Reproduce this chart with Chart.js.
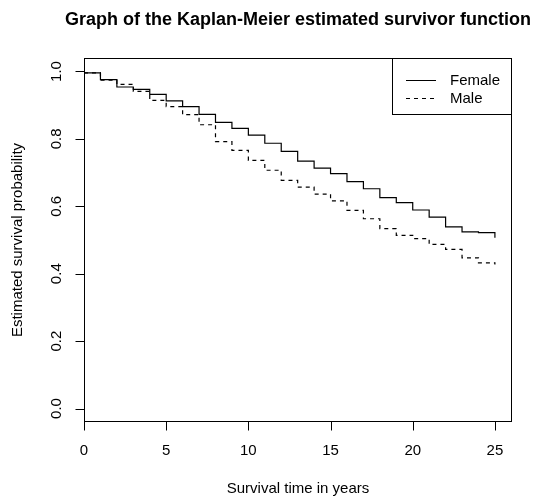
<!DOCTYPE html>
<html>
<head>
<meta charset="utf-8">
<title>Kaplan-Meier survivor function</title>
<script src="https://cdn.jsdelivr.net/npm/chart.js@4.4.1/dist/chart.umd.min.js"></script>
<style>
    html, body { margin: 0; padding: 0; background: #fff; }
    #chartWrap { width: 549px; height: 497px; }
</style>
</head>
<body>
<div id="chartWrap"><canvas id="kmChart" width="549" height="497"></canvas></div>
<script>
// Data (one value per year, step happens at that year)
const years = [0, 1, 2, 3, 4, 5, 6, 7, 8, 9, 10, 11, 12, 13, 14, 15, 16, 17, 18, 19, 20, 21, 22, 23, 24, 25];
const femaleSurvival = [0.996, 0.976, 0.954, 0.947, 0.932, 0.913, 0.896, 0.873, 0.849, 0.831, 0.811, 0.787, 0.763,
    0.734, 0.713, 0.697, 0.673, 0.652, 0.626, 0.611, 0.589, 0.568, 0.539, 0.524, 0.522, 0.507];
const maleSurvival = [0.996, 0.974, 0.962, 0.941, 0.914, 0.896, 0.872, 0.842, 0.792, 0.766, 0.736, 0.707, 0.677,
    0.657, 0.636, 0.616, 0.588, 0.563, 0.534, 0.514, 0.504, 0.487, 0.472, 0.447, 0.432, 0.427];
const xTicks = [0, 5, 10, 15, 20, 25];
const yTicks = [0.0, 0.2, 0.4, 0.6, 0.8, 1.0];
const seriesNames = ['Female', 'Male'];

const chartTitle = 'Graph of the Kaplan-Meier estimated survivor function';
const xTitle = 'Survival time in years';
const yTitle = 'Estimated survival probability';

const FONT = '"Liberation Sans", Arial, Helvetica, sans-serif';

function toPoints(values) {
    return years.map((yr, i) => ({ x: yr, y: values[i] }));
}

// R style frame, ticks, labels and legend drawn on top of the chart area
const baseGraphics = {
    id: 'baseGraphics',
    afterDraw(chart) {
        const ctx = chart.ctx;
        const area = chart.chartArea;
        const xs = chart.scales.x;
        const ys = chart.scales.y;

        ctx.save();
        ctx.strokeStyle = '#000';
        ctx.fillStyle = '#000';
        ctx.lineWidth = 1;

        // box
        ctx.strokeRect(area.left + 0.5, area.top + 0.5, area.right - area.left - 1, area.bottom - area.top - 1);

        // x axis ticks + labels
        ctx.font = '15px ' + FONT;
        ctx.textAlign = 'center';
        ctx.textBaseline = 'middle';
        const xAxisY = area.bottom - 0.5;
        ctx.beginPath();
        ctx.moveTo(Math.round(xs.getPixelForValue(xTicks[0])) + 0.5, xAxisY);
        ctx.lineTo(Math.round(xs.getPixelForValue(xTicks[xTicks.length - 1])) + 0.5, xAxisY);
        xTicks.forEach(t => {
            const px = Math.round(xs.getPixelForValue(t)) + 0.5;
            ctx.moveTo(px, xAxisY);
            ctx.lineTo(px, xAxisY + 9);
        });
        ctx.stroke();
        xTicks.forEach(t => {
            ctx.fillText(String(t), xs.getPixelForValue(t), area.bottom + 29);
        });

        // y axis ticks + rotated labels
        const yAxisX = area.left + 0.5;
        ctx.beginPath();
        ctx.moveTo(yAxisX, Math.round(ys.getPixelForValue(yTicks[0])) + 0.5);
        ctx.lineTo(yAxisX, Math.round(ys.getPixelForValue(yTicks[yTicks.length - 1])) + 0.5);
        yTicks.forEach(t => {
            const py = Math.round(ys.getPixelForValue(t)) + 0.5;
            ctx.moveTo(yAxisX, py);
            ctx.lineTo(yAxisX - 9, py);
        });
        ctx.stroke();
        yTicks.forEach(t => {
            ctx.save();
            ctx.translate(area.left - 27, ys.getPixelForValue(t));
            ctx.rotate(-Math.PI / 2);
            ctx.fillText(t.toFixed(1), 0, 0);
            ctx.restore();
        });

        // axis titles
        const midX = (area.left + area.right) / 2;
        const midY = (area.top + area.bottom) / 2;
        ctx.fillText(xTitle, midX, area.bottom + 67);
        ctx.save();
        ctx.translate(18, midY);
        ctx.rotate(-Math.PI / 2);
        ctx.fillText(yTitle, 0, 0);
        ctx.restore();

        // main title
        ctx.font = 'bold 18px ' + FONT;
        ctx.fillText(chartTitle, midX, 20);

        // legend (top right corner)
        const lgLeft = 392.5, lgTop = area.top + 0.5, lgRight = area.right - 0.5, lgBottom = 114.5;
        ctx.fillStyle = '#fff';
        ctx.fillRect(lgLeft, lgTop, lgRight - lgLeft, lgBottom - lgTop);
        ctx.strokeRect(lgLeft, lgTop, lgRight - lgLeft, lgBottom - lgTop);
        ctx.font = '15px ' + FONT;
        ctx.textAlign = 'left';
        ctx.fillStyle = '#000';
        seriesNames.forEach((name, i) => {
            const ly = 80.5 + i * 18;
            ctx.setLineDash(i === 0 ? [] : [4, 4]);
            ctx.beginPath();
            ctx.moveTo(406, ly);
            ctx.lineTo(436, ly);
            ctx.stroke();
            ctx.fillText(name, 450, ly);
        });
        ctx.setLineDash([]);
        ctx.restore();
    }
};

const ctx = document.getElementById('kmChart').getContext('2d');
new Chart(ctx, {
    type: 'line',
    data: {
        datasets: [{
            label: seriesNames[0],
            data: toPoints(femaleSurvival),
            borderColor: '#000',
            borderWidth: 1.2,
            stepped: true,
            pointRadius: 0,
            fill: false
        }, {
            label: seriesNames[1],
            data: toPoints(maleSurvival),
            borderColor: '#000',
            borderWidth: 1.2,
            borderDash: [4, 4],
            stepped: true,
            pointRadius: 0,
            fill: false
        }]
    },
    options: {
        responsive: false,
        animation: false,
        layout: { padding: { left: 84, top: 58, right: 37, bottom: 75 } },
        plugins: {
            legend: { display: false },
            tooltip: { enabled: false }
        },
        scales: {
            x: { type: 'linear', min: 0, max: 26.04, display: false },
            y: { type: 'linear', min: -0.04, max: 1.04, display: false }
        }
    },
    plugins: [baseGraphics]
});
</script>
</body>
</html>
